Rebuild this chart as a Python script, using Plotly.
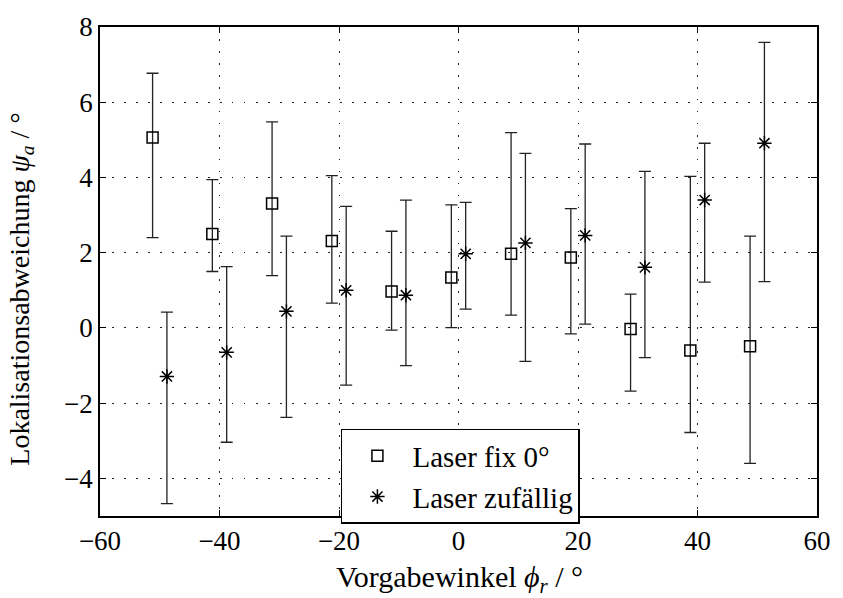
import plotly.graph_objects as go

# Data
x_fix = [-51.2, -41.2, -31.2, -21.2, -11.2, -1.2, 8.8, 18.8, 28.8, 38.8, 48.8]
y_fix = [5.06, 2.50, 3.31, 2.31, 0.97, 1.34, 1.97, 1.87, -0.03, -0.60, -0.49]
up_fix = [6.77, 3.94, 5.48, 4.05, 2.57, 3.27, 5.19, 3.17, 0.90, 4.03, 2.44]
lo_fix = [2.40, 1.50, 1.39, 0.66, -0.06, 0.01, 0.34, -0.16, -1.68, -2.78, -3.60]

x_rand = [-48.8, -38.8, -28.8, -18.8, -8.8, 1.2, 11.2, 21.2, 31.2, 41.2, 51.2]
y_rand = [-1.29, -0.65, 0.44, 1.00, 0.87, 1.97, 2.26, 2.46, 1.61, 3.40, 4.91]
up_rand = [0.42, 1.63, 2.44, 3.23, 3.40, 3.34, 4.64, 4.89, 4.16, 4.91, 7.59]
lo_rand = [-4.67, -3.04, -2.38, -1.52, -1.00, 0.50, -0.89, 0.10, -0.79, 1.22, 1.23]

x_ticks = [-60, -40, -20, 0, 20, 40, 60]
y_ticks = [-4, -2, 0, 2, 4, 6, 8]

x_title = "Vorgabewinkel <i>ϕ<sub>r</sub></i> / °"
y_title = "Lokalisationsabweichung <i>ψ<sub>a</sub></i> / °"

FONT = "Liberation Serif, Times New Roman, serif"

def err(y, up, lo):
    return dict(type="data", symmetric=False,
                array=[u - v for u, v in zip(up, y)],
                arrayminus=[v - l for v, l in zip(y, lo)],
                color="#222", thickness=1.3, width=6)

fig = go.Figure()
fig.add_trace(go.Scatter(
    x=x_fix, y=y_fix, mode="markers", name="Laser fix 0°",
    marker=dict(symbol="square-open", size=11, color="black", line=dict(width=1.5)),
    error_y=err(y_fix, up_fix, lo_fix)))
fig.add_trace(go.Scatter(
    x=x_rand, y=y_rand, mode="markers", name="Laser zufällig",
    marker=dict(symbol="asterisk-open", size=12, color="black", line=dict(width=1.5, color="black")),
    error_y=err(y_rand, up_rand, lo_rand)))

axis_common = dict(
    showline=True, linecolor="black", linewidth=1.5, mirror="ticks",
    ticks="inside", ticklen=6, tickcolor="black", tickwidth=1,
    showgrid=True, gridcolor="#222", griddash="1.5px,10.5px", gridwidth=1,
    zeroline=False, tickfont=dict(family=FONT, size=27, color="black"),
)

fig.update_layout(
    width=843, height=598,
    margin=dict(l=100, r=14, t=17, b=82),
    paper_bgcolor="white", plot_bgcolor="white",
    font=dict(family=FONT, color="black"),
    showlegend=True,
    legend=dict(x=0.336, y=0.178, xanchor="left", yanchor="top",
                bgcolor="white", bordercolor="black", borderwidth=1.5,
                font=dict(family=FONT, size=29, color="black"),
                itemwidth=60, tracegroupgap=0),
    xaxis=dict(range=[-60, 60], tickvals=x_ticks,
               ticktext=[str(v).replace("-", "\u2212") for v in x_ticks],
               **axis_common),
    yaxis=dict(range=[-5, 8], tickvals=y_ticks,
               ticktext=[str(v).replace("-", "\u2212") for v in y_ticks],
               **axis_common),
    annotations=[
        dict(text=x_title, xref="paper", yref="paper", x=0.5007, y=-0.128,
             xanchor="center", yanchor="middle", showarrow=False,
             font=dict(family=FONT, size=30, color="black")),
        dict(text=y_title, xref="paper", yref="paper", x=-0.11, y=0.463,
             xanchor="center", yanchor="middle", showarrow=False, textangle=-90,
             font=dict(family=FONT, size=28, color="black")),
    ],
)

fig.write_html("out.html")
